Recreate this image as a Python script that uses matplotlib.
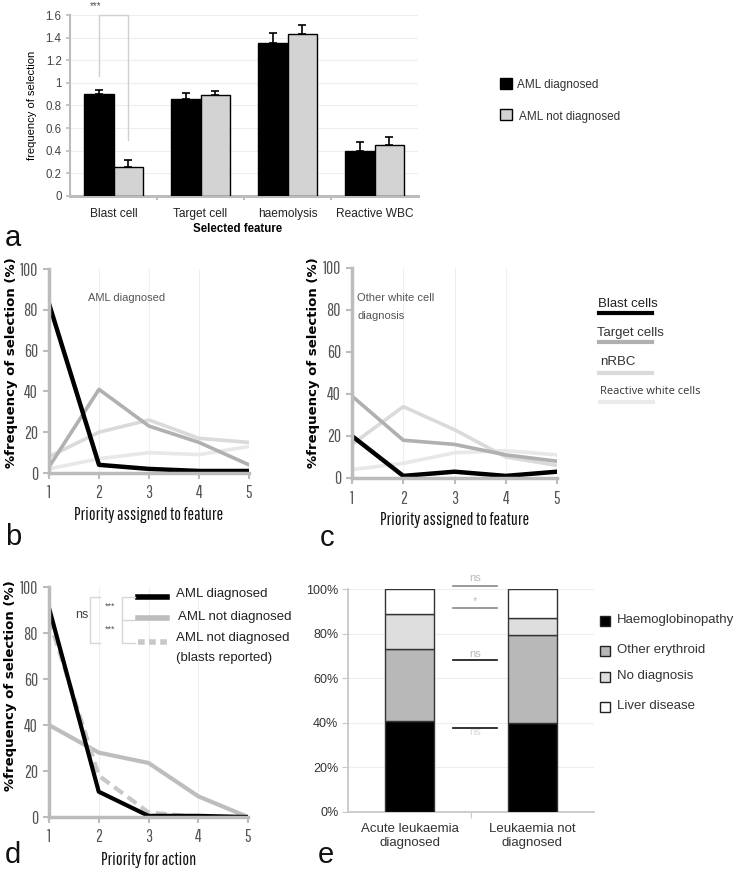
import matplotlib
matplotlib.use('Agg')
import matplotlib.pyplot as plt
from matplotlib.lines import Line2D
from matplotlib.patches import Rectangle
import matplotlib.transforms as mtransforms

# ---------------- data ----------------
features = ["Blast cell", "Target cell", "haemolysis", "Reactive WBC"]
aml_dx = [0.90, 0.86, 1.35, 0.40]
aml_dx_err = [0.04, 0.05, 0.09, 0.08]
aml_ndx = [0.26, 0.89, 1.43, 0.45]
aml_ndx_err = [0.06, 0.04, 0.08, 0.07]

priority = [1, 2, 3, 4, 5]
b_blast = [83, 4, 2, 1, 1]
b_target = [3, 41, 23, 15, 4]
b_nrbc = [8, 20, 26, 17, 15]
b_reactive = [2, 7, 10, 9, 13]
c_blast = [20, 1, 3, 1, 3]
c_target = [39, 18, 16, 11, 8]
c_nrbc = [16, 34, 23, 10, 6]
c_reactive = [4, 7, 12, 13, 11]

d_dx = [91, 11, 0.5, 0.5, 0]
d_ndx = [40, 28, 23.5, 9, 0]
d_ndx_blasts = [86, 18, 2, 0, 0]

e_groups = ["Acute leukaemia\ndiagnosed", "Leukaemia not\ndiagnosed"]
e_cats = ["Haemoglobinopathy", "Other erythroid", "No diagnosis", "Liver disease"]
e_haemo = [41, 40]
e_other = [32, 39.5]
e_nodx = [16, 7.5]
e_liver = [11, 13]

# ---------------- helpers ----------------
W, H = 737, 876
fig = plt.figure(figsize=(W / 100, H / 100), dpi=100)
plt.rcParams['font.family'] = ['Liberation Sans', 'DejaVu Sans']
NARROW = ['Pathway Gothic One', 'Roboto Condensed', 'Liberation Sans']


def ax_px(x0, y0, x1, y1):
    return fig.add_axes([x0 / W, 1 - y1 / H, (x1 - x0) / W, (y1 - y0) / H])


def ft(x, y, s, **kw):
    kw.setdefault('va', 'center')
    return fig.text(x / W, 1 - y / H, s, **kw)


def fline(xs, ys, **kw):
    fig.add_artist(Line2D([x / W for x in xs], [1 - y / H for y in ys],
                          transform=fig.transFigure, **kw))


def frect(x0, y0, w, h, **kw):
    fig.add_artist(Rectangle((x0 / W, 1 - (y0 + h) / H), w / W, h / H,
                             transform=fig.transFigure, **kw))


SPC = '#bcbcbc'

# ---------------- panel a ----------------
axa = ax_px(70, 15, 418, 196)
xs = range(len(features))
bw = 0.34
ek = dict(ecolor='black', capsize=3, elinewidth=1.2, capthick=1.2)
axa.bar([i - bw / 2 for i in xs], aml_dx, bw, color='black', edgecolor='black', lw=1,
        yerr=[[0] * 4, aml_dx_err], error_kw=ek, zorder=3)
axa.bar([i + bw / 2 for i in xs], aml_ndx, bw, color='#d3d3d3', edgecolor='black', lw=1,
        yerr=[[0] * 4, aml_ndx_err], error_kw=ek, zorder=3)
axa.set_xlim(-0.5, 3.5)
axa.set_ylim(0, 1.6)
axa.set_yticks([0, 0.2, 0.4, 0.6, 0.8, 1.0, 1.2, 1.4, 1.6])
axa.set_yticklabels(['0', '0.2', '0.4', '0.6', '0.8', '1', '1.2', '1.4', '1.6'], fontsize=8.3, color='#444')
axa.yaxis.grid(True, color='#eeeeee', lw=0.8, zorder=0)
axa.set_xticks([0.5, 1.5, 2.5], minor=False)
axa.set_xticklabels([])
axa.set_xticks(list(xs), minor=True)
axa.set_xticklabels(features, minor=True, fontsize=8.6, color='#222')
shift = mtransforms.ScaledTranslation(-10 / 100, 0, fig.dpi_scale_trans)
for lab in axa.xaxis.get_minorticklabels():
    lab.set_transform(lab.get_transform() + shift)
axa.tick_params(axis='x', which='minor', length=0, pad=9)
axa.tick_params(axis='x', which='major', length=3, color=SPC, width=1.5)
axa.tick_params(axis='y', length=3, color=SPC, width=1.2, pad=3)
for s in ['top', 'right']:
    axa.spines[s].set_visible(False)
axa.spines['left'].set_color(SPC)
axa.spines['left'].set_linewidth(1.5)
axa.spines['bottom'].set_color(SPC)
axa.spines['bottom'].set_linewidth(2.2)
axa.set_ylabel('frequency of selection', fontsize=8, labelpad=6)
ft(238, 229, 'Selected feature', fontsize=8.3, fontweight='bold', ha='center')
# significance bracket
fline([99, 99, 128, 128], [76, 15, 15, 140], color='#d0d0d0', lw=1)
ft(96, 6, '***', fontsize=7, color='#555', ha='center')
# legend a
frect(500, 78, 12, 11, facecolor='black', edgecolor='black', lw=1)
ft(517, 85, 'AML diagnosed', fontsize=8.5, color='#333', ha='left')
frect(500, 109, 12, 11, facecolor='#d3d3d3', edgecolor='black', lw=1)
ft(519, 117, 'AML not diagnosed', fontsize=8.5, color='#333', ha='left')


def style_line_axes(ax, xlabel, label_x, label_y, xlabelpad):
    ax.set_xlim(1, 5)
    ax.set_ylim(0, 100)
    ax.set_xticks(priority)
    ax.set_yticks([0, 20, 40, 60, 80, 100])
    for lab in ax.get_xticklabels() + ax.get_yticklabels():
        lab.set_family(NARROW)
        lab.set_fontsize(12.5)
        lab.set_color('#555')
    ax.xaxis.grid(True, color='#eeeeee', lw=0.8)
    for s in ['top', 'right']:
        ax.spines[s].set_visible(False)
    for s in ['left', 'bottom']:
        ax.spines[s].set_color(SPC)
        ax.spines[s].set_linewidth(2.5)
    ax.tick_params(length=4, color=SPC, width=1.5)
    ax.tick_params(axis='y', pad=4)
    ax.tick_params(axis='x', pad=5)
    ax.set_xlabel(xlabel, family=NARROW, fontsize=12.8, labelpad=xlabelpad, color='#111')
    ax.set_ylabel('%frequency of selection (%)', family=['DejaVu Sans'], fontsize=9.5,
                  fontweight='bold')
    ax.yaxis.set_label_coords(label_x, label_y)


# ---------------- panel b ----------------
axb = ax_px(49, 269, 249, 473)
axb.plot(priority, b_reactive, color='#e8e8e8', lw=2.6)
axb.plot(priority, b_nrbc, color='#dadada', lw=2.6)
axb.plot(priority, b_target, color='#b0b0b0', lw=2.6)
axb.plot(priority, b_blast, color='black', lw=3.2)
style_line_axes(axb, 'Priority assigned to feature', (18 - 49) / 200, 0.54, 4)
axb.text(1.78, 86, 'AML diagnosed', fontsize=8, color='#555', va='center')

# ---------------- panel c ----------------
axc = ax_px(352, 268, 557, 478)
axc.plot(priority, c_reactive, color='#e8e8e8', lw=2.6)
axc.plot(priority, c_nrbc, color='#dadada', lw=2.6)
axc.plot(priority, c_target, color='#b0b0b0', lw=2.6)
axc.plot(priority, c_blast, color='black', lw=3.2)
style_line_axes(axc, 'Priority assigned to feature', (320 - 352) / 205, 0.55, 4)
ft(357, 298, 'Other white cell', fontsize=8, color='#555', ha='left')
ft(357, 316, 'diagnosis', fontsize=8, color='#555', ha='left')

# legend b/c
ft(598, 304, 'Blast cells', fontsize=9.5, color='#222', ha='left')
fline([599, 652], [313, 313], color='black', lw=3)
ft(597, 333, 'Target cells', fontsize=9.5, color='#333', ha='left')
fline([599, 652], [342, 342], color='#b0b0b0', lw=3)
ft(600, 362, 'nRBC', fontsize=9.5, color='#333', ha='left')
fline([599, 652], [373, 373], color='#dadada', lw=3)
ft(600, 392, 'Reactive white cells', fontsize=8, color='#333', ha='left', family=['Open Sans', 'DejaVu Sans'])
fline([600, 653], [402, 402], color='#ebebeb', lw=3)

# ---------------- panel d ----------------
axd = ax_px(49, 587, 248, 817)
axd.plot(priority, d_ndx, color='#bdbdbd', lw=3)
axd.plot(priority, d_ndx_blasts, color='#c8c8c8', lw=3, ls=(0, (2.6, 1.4)))
axd.plot(priority, d_dx, color='black', lw=3)
style_line_axes(axd, 'Priority for action', (17 - 49) / 199, 0.57, 5)
# legend d
fline([138, 167], [597, 597], color='black', lw=4)
ft(176, 594, 'AML diagnosed', fontsize=9.5, color='#222', ha='left')
fline([138, 167], [618, 618], color='#bdbdbd', lw=4)
ft(178, 617, 'AML not diagnosed', fontsize=9.5, color='#222', ha='left')
fline([138, 167], [642, 642], color='#c8c8c8', lw=4, ls=(0, (1.2, 0.8)))
ft(176, 638, 'AML not diagnosed', fontsize=9.5, color='#222', ha='left')
ft(176, 658, '(blasts reported)', fontsize=9.5, color='#222', ha='left')
# brackets d
bc = '#d6d6d6'
fline([100, 90, 90, 100], [597, 597, 643, 643], color=bc, lw=1)
fline([135, 122, 122, 135], [597, 597, 620, 620], color=bc, lw=1)
fline([122, 122, 135], [620, 643, 643], color=bc, lw=1)
ft(82, 615, 'ns', fontsize=9, color='#444', ha='center')
ft(110, 606, '***', fontsize=6.5, color='#555', ha='center')
ft(110, 629, '***', fontsize=6.5, color='#555', ha='center')

# ---------------- panel e ----------------
axe = ax_px(348, 589, 594, 812)
ecols = ['black', '#b8b8b8', '#dedede', 'white']
bottom = [0, 0]
for vals, col in zip([e_haemo, e_other, e_nodx, e_liver], ecols):
    axe.bar([0, 1], vals, 0.4, bottom=bottom, color=col, edgecolor='#333', lw=1, zorder=3)
    bottom = [b + v for b, v in zip(bottom, vals)]
axe.set_xlim(-0.5, 1.5)
axe.set_ylim(0, 100)
axe.set_yticks([0, 20, 40, 60, 80, 100])
axe.set_yticklabels(['0%', '20%', '40%', '60%', '80%', '100%'], fontsize=9, color='#333')
axe.yaxis.grid(True, color='#eeeeee', lw=0.8, zorder=0)
axe.set_xticks([0.5])
axe.set_xticklabels([])
axe.set_xticks([0, 1], minor=True)
axe.set_xticklabels(e_groups, minor=True, fontsize=9.5, color='#333', linespacing=1.25)
axe.tick_params(axis='x', which='minor', length=0, pad=8)
axe.tick_params(axis='x', which='major', length=4, color='#c8c8c8')
axe.tick_params(axis='y', length=4, color='#c8c8c8', pad=3)
for s in ['top', 'right']:
    axe.spines[s].set_visible(False)
for s in ['left', 'bottom']:
    axe.spines[s].set_color('#c8c8c8')
    axe.spines[s].set_linewidth(1.3)
# significance marks e
for yv, lc, tx, tc, ty in [(101.3, '#888', 'ns', '#bbb', 105.0),
                           (91.5, '#888', '*', '#bbb', 94.5),
                           (68.2, '#111', 'ns', '#bbb', 71.0),
                           (37.7, '#111', 'ns', '#d8d8d8', 36.0)]:
    axe.plot([0.354, 0.711], [yv, yv], color=lc, lw=1.2, clip_on=False, zorder=4)
    axe.text(0.53, ty, tx, fontsize=8, color=tc, ha='center', va='center', clip_on=False, zorder=5)
# legend e
for i, (lab, col) in enumerate(zip(e_cats, ecols)):
    yy = [621, 651, 677, 707][i]
    frect(600, yy - 5, 10, 10, facecolor=col, edgecolor='#222', lw=1)
    ft(617, yy - 1, lab, fontsize=9.5, color='#333', ha='left')

# panel labels
for lab, x, y in [('a', 5, 238), ('b', 5, 537), ('c', 320, 538), ('d', 5, 855), ('e', 318, 855)]:
    ft(x, y, lab, fontsize=21, color='#111', ha='left')

fig.savefig('out.png', dpi=100)
